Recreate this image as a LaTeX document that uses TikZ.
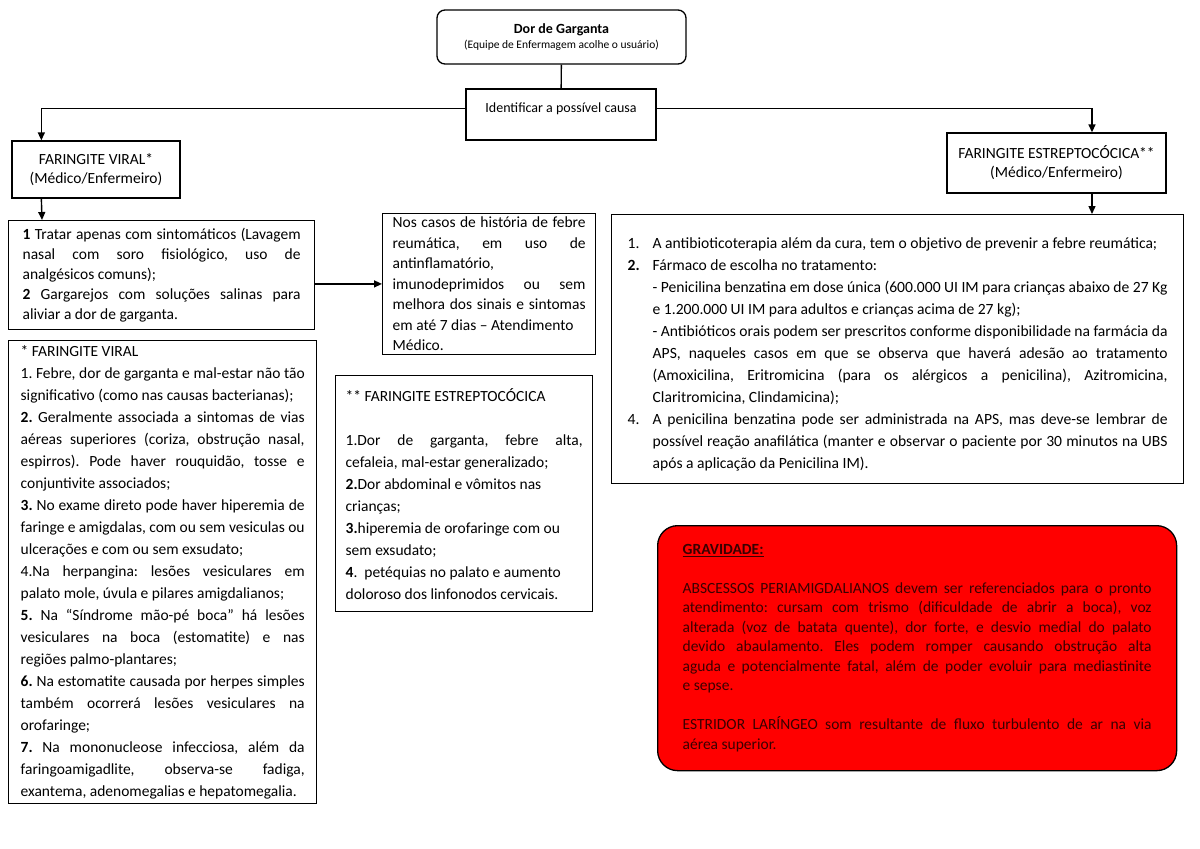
\documentclass[tikz,border=0pt]{standalone}
\usepackage{fontspec}
\setmainfont{Carlito}
\usetikzlibrary{arrows.meta}
\definecolor{gravred} {HTML}{FF0000}
\definecolor{gravtext}{HTML}{3A0000}
\frenchspacing
\newcommand{\itm}[2]{\par\noindent\hangindent=25pt\hangafter=1\makebox[25pt][l]{#1}#2\par}
\newcommand{\subitm}[1]{\par\noindent\hangindent=25pt\hangafter=0 #1\par}

\begin{document}
\begin{tikzpicture}[
  x=1pt, y=-1pt,
  box/.style ={draw,line width=1.3pt,align=center},
  txt/.style ={box,anchor=north west,align=justify,
               font=\fontsize{15.5}{22}\selectfont},
  arr/.style ={-{Triangle[length=8pt,width=7pt]},line width=1.4pt},
  lnk/.style ={line width=1.4pt}
]
\useasboundingbox (0,0) rectangle (1200,849);

%% Topo e causa
\node[box,rounded corners=8pt,minimum width=249pt,minimum height=54pt]
  (dor) at (561.5,37)
  {\fontsize{14}{19}\selectfont\textbf{Dor de Garganta}\\[3pt]
   \fontsize{11.5}{14}\selectfont(Equipe de Enfermagem acolhe o usuário)};
\node[box,minimum width=190pt,minimum height=51pt,text depth=14pt,
      font=\fontsize{14}{19}\selectfont]
  (idf) at (561,114.5) {Identificar a possível causa};

%% Tipos de faringite
\node[box,minimum width=168pt,minimum height=57pt,
      font=\fontsize{15.5}{19}\selectfont]
  (viral) at (96,169.5) {FARINGITE VIRAL*\\(Médico/Enfermeiro)};
\node[box,minimum width=219pt,minimum height=60pt,
      font=\fontsize{15.5}{19}\selectfont]
  (strep) at (1056.5,163) {FARINGITE ESTREPTOCÓCICA**\\(Médico/Enfermeiro)};

%% Conduta viral
\node[txt,inner xsep=14pt,text width=278pt,minimum height=109pt,
      font=\fontsize{15.5}{20}\selectfont]
  (trat) at (8,220)
  {\textbf{1} Tratar apenas com sintomáticos (Lavagem\linebreak
   nasal com soro fisiológico, uso de\linebreak
   analgésicos comuns);\\
   \textbf{2} Gargarejos com soluções salinas para\linebreak
   aliviar a dor de garganta.};

\node[txt,inner xsep=10pt,text width=193pt,minimum height=140pt,
      font=\fontsize{15.5}{20.5}\selectfont]
  (note) at (382,213)
  {Nos casos de história de febre\linebreak
   reumática, em uso de\linebreak
   antinflamatório,\\
   imunodeprimidos ou sem\linebreak
   melhora dos sinais e sintomas\linebreak
   em até 7 dias – Atendimento\\
   Médico.};

%% Quadro * faringite viral
\node[txt,inner xsep=12pt,text width=284pt,minimum height=463pt]
  (vlist) at (8,340)
  {* FARINGITE VIRAL\\
   1. Febre, dor de garganta e mal-estar não tão\linebreak
   significativo (como nas causas bacterianas);\\
   \textbf{2.} Geralmente associada a sintomas de vias\linebreak
   aéreas superiores (coriza, obstrução nasal,\linebreak
   espirros). Pode haver rouquidão, tosse e\linebreak
   conjuntivite associados;\\
   \textbf{3.} No exame direto pode haver hiperemia de\linebreak
   faringe e amigdalas, com ou sem vesiculas ou\linebreak
   ulcerações e com ou sem exsudato;\\
   4.Na herpangina: lesões vesiculares em\linebreak
   palato mole, úvula e pilares amigdalianos;\\
   \textbf{5.} Na “Síndrome mão-pé boca” há lesões\linebreak
   vesiculares na boca (estomatite) e nas\linebreak
   regiões palmo-plantares;\\
   \textbf{6.} Na estomatite causada por herpes simples\linebreak
   também ocorrerá lesões vesiculares na\linebreak
   orofaringe;\\
   \textbf{7.} Na mononucleose infecciosa, além da\linebreak
   faringoamigadlite, observa-se fadiga,\linebreak
   exantema, adenomegalias e hepatomegalia.};

%% Quadro ** faringite estreptococica
\node[txt,inner xsep=10pt,text width=237pt,minimum height=236pt]
  (slist) at (335,375)
  {** FARINGITE ESTREPTOCÓCICA\\[22pt]
   1.Dor de garganta, febre alta,\linebreak
   cefaleia, mal-estar generalizado;\\
   \textbf{2.}Dor abdominal e vômitos nas\\
   crianças;\\
   \textbf{3.}hiperemia de orofaringe com ou\\
   sem exsudato;\\
   \textbf{4}.~~petéquias no palato e aumento\\
   doloroso dos linfonodos cervicais.};

%% Conduta estreptococica
\node[txt,inner xsep=16pt,text width=540pt,minimum height=269pt,
      font=\fontsize{15.6}{22}\selectfont]
  (rbox) at (611,214)
  {\itm{1.}{A antibioticoterapia além da cura, tem o objetivo de prevenir a febre reumática;}
   \itm{\textbf{2.}}{Fármaco de escolha no tratamento:}
   \subitm{- Penicilina benzatina em dose única (600.000 UI IM para crianças abaixo de 27 Kg\linebreak
     e 1.200.000 UI IM para adultos e crianças acima de 27 kg);}
   \subitm{- Antibióticos orais podem ser prescritos conforme disponibilidade na farmácia da\linebreak
     APS, naqueles casos em que se observa que haverá adesão ao tratamento\linebreak
     (Amoxicilina, Eritromicina (para os alérgicos a penicilina), Azitromicina,\linebreak
     Claritromicina, Clindamicina);}
   \itm{4.}{A penicilina benzatina pode ser administrada na APS, mas deve-se lembrar de\linebreak
     possível reação anafilática (manter e observar o paciente por 30 minutos na UBS\linebreak
     após a aplicação da Penicilina IM).}};

%% Gravidade
\node[txt,rounded corners=20pt,fill=gravred,text=gravtext,inner xsep=25pt,
      text width=469pt,minimum height=245pt,
      font=\fontsize{15.5}{19.5}\selectfont]
  (grav) at (657,525)
  {\underline{\textbf{GRAVIDADE:}}\\[19.5pt]
   ABSCESSOS PERIAMIGDALIANOS devem ser referenciados para o pronto\linebreak
   atendimento: cursam com trismo (dificuldade de abrir a boca), voz\linebreak
   alterada (voz de batata quente), dor forte, e desvio medial do palato\linebreak
   devido abaulamento. Eles podem romper causando obstrução alta\linebreak
   aguda e potencialmente fatal, além de poder evoluir para mediastinite\linebreak
   e sepse.\\[19.5pt]
   ESTRIDOR LARÍNGEO som resultante de fluxo turbulento de ar na via\linebreak
   aérea superior.};

%% Conectores
\draw[lnk] (dor) -- (idf);
\draw[arr] ([yshift=6pt]idf.west) -| ([xshift=30pt]viral.north west);
\draw[arr] ([yshift=6pt]idf.east) -| ([xshift=35.5pt]strep.north);
\draw[arr] ([xshift=30pt]viral.south west) -- ([xshift=34pt]trat.north west);
\draw[arr] ([xshift=35.5pt]strep.south) -- ([xshift=481pt]rbox.north west);
\draw[arr] (trat.east |- note.west) -- (note.west);

\end{tikzpicture}
\end{document}
